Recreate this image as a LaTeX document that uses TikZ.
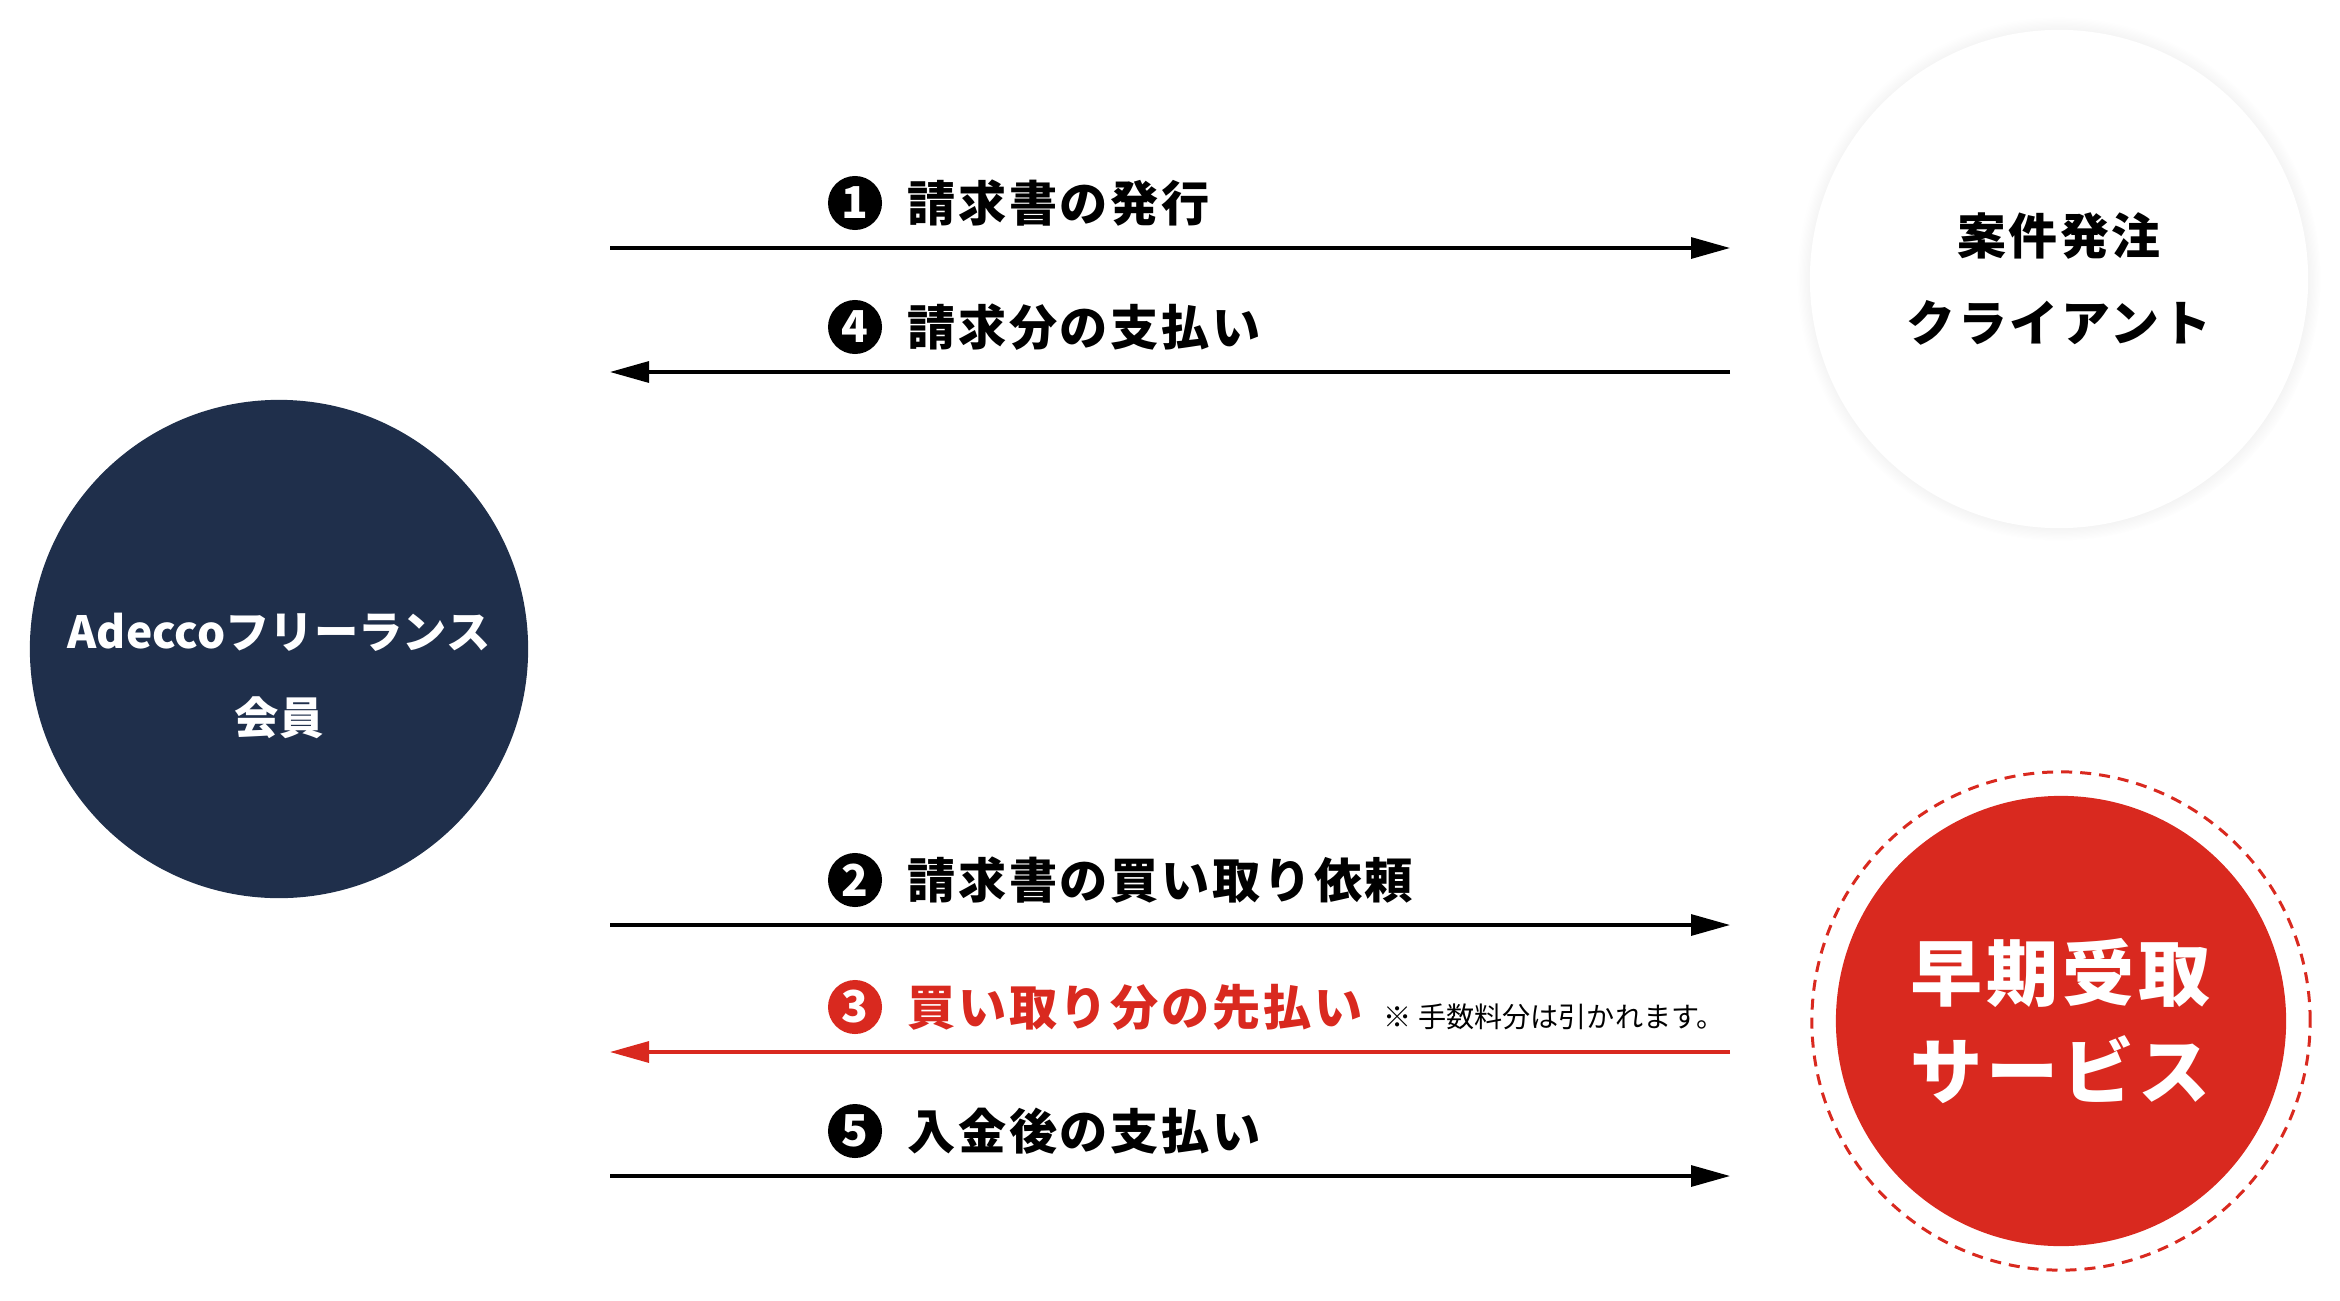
\documentclass[tikz,border=0pt]{standalone}
\usepackage{fontspec}
\setmainfont{Noto Sans CJK JP}
\newfontfamily\jpwide{Noto Sans CJK JP}[LetterSpace=5.5]
\usetikzlibrary{arrows.meta,shadows,positioning}

\definecolor{navy}{HTML}{1F2F4B}
\definecolor{akared}{HTML}{D9291F}

\tikzset{
  party/.style={circle, minimum size=4.98cm, inner sep=0pt, align=center,
    font=\jpwide\bfseries\fontsize{13.9}{24.5}\selectfont},
  numdot/.style={circle, fill=black, text=white, minimum size=0.54cm, inner sep=0pt,
    font=\bfseries\fontsize{12.5}{12.5}\selectfont},
  steplabel/.style={right=0.24cm of #1, inner sep=0pt,
    font=\jpwide\bfseries\fontsize{13.7}{16}\selectfont},
  flow/.style={line width=0.9pt, -{Triangle[length=0.39cm,width=0.21cm]}},
}

\begin{document}
\begin{tikzpicture}[x=0.01cm, y=-0.01cm]
    \useasboundingbox (0,0) rectangle (2340,1300);

    % the three parties
    \node[party, fill=navy] (member) at (279,649) {};
    \node[align=center, text=white, inner sep=0pt,
      font=\bfseries\fontsize{12.6}{24.5}\selectfont] (memberlabel) at (279,676) {Adeccoフリーランス\\会員};
    \node[party, fill=white, circular drop shadow={shadow xshift=0pt, shadow yshift=0pt,
      shadow scale=1.05, opacity=0.25}] (client) at (2059,279) {案件発注\\クライアント};
    \node[party, draw=akared, line width=0.85pt, dash pattern=on 0.11cm off 0.08cm] (ring) at (2061,1021) {};
    \node[party, minimum size=4.5cm, fill=akared, text=white,
      font=\jpwide\bfseries\fontsize{20.5}{28}\selectfont] (service) at (ring) {早期受取\\サービス};

    % arrow ends
    \coordinate (a1s) at (610,248);  \coordinate (a1e) at (1730,248);
    \coordinate (a4s) at (1730,372); \coordinate (a4e) at (610,372);
    \coordinate (a2s) at (610,925);  \coordinate (a2e) at (1730,925);
    \coordinate (a3s) at (1730,1052);\coordinate (a3e) at (610,1052);
    \coordinate (a5s) at (610,1176); \coordinate (a5e) at (1730,1176);

    \draw[flow] (a1s) -- (a1e);
    \draw[flow] (a4s) -- (a4e);
    \draw[flow] (a2s) -- (a2e);
    \draw[flow, draw=akared, fill=akared] (a3s) -- (a3e);
    \draw[flow] (a5s) -- (a5e);

    % step labels
    \node[numdot] (n1) at (855,203) {1};
    \node[steplabel=n1] (t1) {請求書の発行};
    \node[numdot] (n4) at (855,327) {4};
    \node[steplabel=n4] (t4) {請求分の支払い};
    \node[numdot] (n2) at (855,880) {2};
    \node[steplabel=n2] (t2) {請求書の買い取り依頼};
    \node[numdot, fill=akared] (n3) at (855,1007) {3};
    \node[steplabel=n3, text=akared] (t3) {買い取り分の先払い};
    \node[right=0.2cm of t3.south east, anchor=south west, inner sep=0pt,
      font=\fontsize{8}{9}\selectfont] (fee) {※ 手数料分は引かれます。};
    \node[numdot] (n5) at (855,1131) {5};
    \node[steplabel=n5] (t5) {入金後の支払い};
\end{tikzpicture}
\end{document}
